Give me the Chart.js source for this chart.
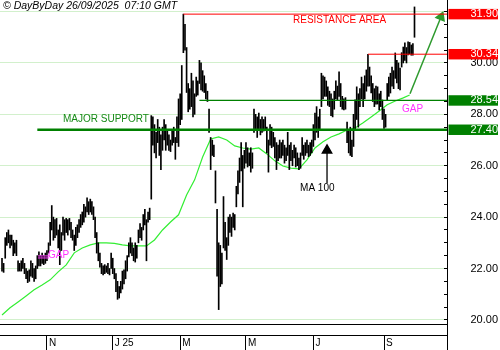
<!DOCTYPE html>
<html>
<head>
<meta charset="utf-8">
<title>DayByDay</title>
<script src="https://cdn.jsdelivr.net/npm/chart.js@4.4.1/dist/chart.umd.min.js"></script>
<style>
    html, body { margin: 0; padding: 0; background: #fff; }
</style>
</head>
<body>
<canvas id="chart" width="500" height="350"></canvas>
<script>
(function () {
    "use strict";

    // Daily bars, one per trading day from 24/09/2024 to 26/09/2025
    var highs = [
        22.4, 22.2, 23.2, 23.4, 23.5, 23.3, 23.3, 23.1, 23.0, 23.1,
        22.3, 22.2, 22.3, 22.4, 22.2, 22.0, 21.9, 21.95, 22.3, 22.2,
        22.0, 22.1, 22.5, 22.65, 22.5, 22.6, 22.5, 22.6, 22.7, 23.0,
        23.8, 24.45, 24.0, 23.9, 23.95, 23.5, 23.7, 23.4, 24.0, 23.9,
        23.95, 23.9, 23.95, 23.8, 23.5, 23.3, 23.6, 23.7, 23.9, 24.1,
        24.2, 24.5, 24.4, 24.75, 24.6, 24.7, 24.6, 24.4, 24.0, 23.4,
        23.0, 22.6, 22.2, 22.1, 22.15, 22.1, 22.2, 22.0, 22.6, 22.4,
        22.0, 21.8, 21.5, 21.3, 21.5, 21.9, 21.95, 22.3, 22.5, 23.0,
        23.2, 23.0, 22.8, 23.0, 22.9, 23.5, 23.75, 23.6, 24.1, 24.3,
        23.9, 24.2, 24.35, 27.95, 27.9, 27.6, 27.3, 27.8, 27.5, 27.2,
        27.5, 27.8, 27.6, 27.4, 27.2, 27.0, 27.4, 27.5, 27.1, 27.9,
        28.6, 28.8, 29.9, 31.9, 31.5, 30.6, 29.2, 29.0, 29.6, 29.3,
        28.8, 29.45, 29.3, 30.1, 30.0, 29.7, 29.5, 29.2, 28.9, 28.2,
        27.1, 27.0, 26.8, 25.8, 24.3, 23.0, 22.9, 22.6, 24.8, 23.8,
        23.2, 24.0, 24.1, 24.0, 24.16, 24.1, 25.2, 25.8, 26.3, 26.9,
        26.4, 26.6, 26.9, 26.7, 26.5, 26.7, 26.5, 28.2, 28.0, 27.9,
        28.05, 27.8, 27.9, 27.8, 27.9, 27.5, 27.0, 27.6, 27.5, 27.3,
        27.1, 26.9, 26.8, 27.0, 26.9, 27.0, 26.8, 26.7, 27.3, 26.8,
        26.9, 26.6, 26.8, 26.7, 26.5, 26.3, 26.5, 27.1, 26.8, 26.9,
        27.0, 26.8, 26.9, 27.0, 27.6, 28.05, 28.3, 27.9, 28.2, 29.6,
        29.5, 29.45, 29.3, 29.07, 28.9, 28.8, 28.6, 28.9, 29.3, 29.1,
        29.65, 29.2, 28.7, 28.6, 28.65, 27.7, 27.4, 27.5, 27.0, 28.0,
        28.56, 29.07, 28.8, 29.0, 29.45, 29.2, 29.5, 29.73, 30.34, 29.84,
        29.5, 29.2, 29.0, 29.1, 29.07, 28.8, 28.9, 28.56, 28.2, 28.0,
        29.2, 29.45, 29.6, 29.84, 29.7, 30.39, 30.1, 30.0, 29.8, 30.4,
        30.62, 30.78, 30.6, 30.82, 30.8, 30.7, 30.75, 32.18
    ];
    var lows = [
        21.9, 21.85, 22.4, 22.9, 23.0, 22.8, 22.9, 22.5, 22.6, 22.5,
        21.9, 21.9, 21.9, 22.0, 21.8, 21.6, 21.45, 21.5, 21.7, 21.65,
        21.5, 21.6, 22.0, 22.1, 22.1, 22.2, 22.15, 22.2, 22.3, 22.6,
        22.9, 23.5, 23.1, 23.2, 23.3, 22.8, 22.15, 22.7, 23.3, 23.1,
        23.4, 23.3, 23.5, 23.2, 23.1, 22.7, 22.9, 23.2, 23.4, 23.6,
        23.7, 23.8, 24.0, 24.2, 24.1, 24.2, 24.1, 23.9, 23.2, 22.6,
        22.3, 22.05, 21.8, 21.75, 21.8, 21.85, 21.8, 21.75, 22.0, 21.8,
        21.6, 21.1, 20.8, 20.85, 21.05, 21.2, 21.4, 21.6, 21.9, 22.45,
        22.6, 22.5, 22.3, 22.25, 22.4, 23.0, 23.2, 23.1, 23.5, 23.7,
        22.3, 23.8, 23.9, 24.7, 26.8, 26.5, 26.3, 26.9, 26.4, 25.85,
        26.6, 27.0, 26.6, 26.8, 26.6, 26.55, 26.8, 26.9, 26.25, 26.9,
        26.75, 27.6, 27.8, 30.4, 30.5, 28.85, 28.1, 28.2, 28.3, 27.9,
        28.0, 28.7, 28.75, 29.2, 28.95, 28.9, 28.85, 28.6, 28.5, 27.3,
        25.85, 26.4, 26.35, 24.55, 21.7, 20.4, 21.3, 21.4, 22.8, 22.7,
        22.35, 22.9, 23.4, 23.25, 23.6, 23.5, 24.4, 24.9, 25.35, 25.8,
        24.4, 25.9, 26.1, 25.95, 26.0, 25.75, 25.9, 27.3, 27.4, 27.1,
        27.4, 27.2, 27.3, 27.35, 27.4, 26.5, 25.75, 26.8, 26.7, 26.75,
        26.3, 25.85, 26.2, 26.3, 26.3, 26.4, 26.1, 26.2, 26.4, 25.85,
        26.2, 26.0, 26.3, 25.95, 26.0, 25.85, 25.9, 26.4, 26.25, 26.4,
        26.5, 26.35, 26.4, 26.5, 26.75, 27.0, 27.3, 27.1, 27.4, 28.3,
        28.6, 28.7, 28.7, 28.35, 28.3, 27.95, 27.9, 28.2, 28.6, 28.56,
        28.7, 28.3, 28.2, 28.17, 28.2, 26.9, 26.5, 26.4, 26.35, 26.75,
        27.4, 27.8, 27.5, 28.3, 28.6, 28.3, 28.6, 28.9, 29.1, 29.1,
        28.83, 28.5, 28.3, 28.4, 28.4, 28.17, 28.3, 27.8, 27.45, 27.5,
        28.56, 28.7, 28.83, 29.1, 29.0, 29.4, 29.22, 29.0, 28.95, 29.84,
        30.0, 30.1, 30.0, 30.31, 30.35, 30.3, 30.3, 31.0
    ];

    // 100 day moving average, read every fifth bar
    var maIdx = [0, 5, 10, 15, 20, 25, 30, 35, 40, 45, 50, 55, 60, 65, 70, 75, 80, 85,
        90, 95, 100, 105, 110, 115, 120, 125, 130, 135, 140, 145, 150, 155, 160, 165,
        170, 175, 180, 185, 190, 195, 200, 205, 210, 215, 220, 225, 230, 235, 240, 245,
        250, 254];
    var ma100 = [20.19, 20.47, 20.70, 20.93, 21.17, 21.36, 21.56, 21.87, 22.14, 22.61,
        22.80, 22.92, 23.00, 23.00, 22.98, 22.92, 22.88, 22.88, 22.88, 23.11, 23.50,
        23.81, 24.09, 24.86, 25.45, 26.34, 27.04, 27.12, 27.00, 26.77, 26.69, 26.65,
        26.69, 26.46, 26.19, 25.99, 25.91, 25.88, 26.23, 26.69, 26.93, 27.12, 27.24,
        27.39, 27.47, 27.67, 27.90, 28.13, 28.37, 28.52, 28.64, 28.75];

    // month ticks (bar index of first trading day)
    var monthIdx = [28, 69, 111, 152, 194, 238];
    var monthLabels = ["N", "J 25", "M", "M", "J", "S"];
    var priceTicks = [20, 22, 24, 26, 28, 30];

    // drawn levels
    var levels = [31.90, 30.34, 28.54, 27.40];
    var levelFrom = [113, 228, 123, 22];
    var levelColors = ["#ff0000", "#ff0000", "#008000", "#008000"];
    var levelWidths = [1, 1, 1.3, 2.5];

    var notes = [
        ["RESISTANCE AREA", 181.3, 31.67, "#ff0000"],
        ["MAJOR SUPPORT", 38, 27.82, "#178a17"],
        ["GAP", 28.7, 22.53, "#ff33ff"],
        ["GAP", 249.2, 28.21, "#ff33ff"],
        ["MA 100", 185.7, 25.14, "#000000"]
    ];

    var xMin = -1.25, xMax = 277.25;
    var yMin = 19.84, yMax = 32.45;

    Chart.defaults.font.family = "Arial, 'Liberation Sans', sans-serif";
    Chart.defaults.color = "#000";

    var yTicks = [];
    for (var v = 20; v <= 32; v += 0.5) yTicks.push(v);
    yTicks = yTicks.concat(levels).sort(function (a, b) { return a - b; });

    function levelOf(v) { return levels.indexOf(v); }
    function isMajor(v) { return levelOf(v) < 0 && v % 2 === 0; }

    var bars = highs.map(function (h, i) { return {x: i, y: [lows[i], h]}; });
    var maLine = maIdx.map(function (x, k) { return {x: x, y: ma100[k]}; });

    var datasets = [{
        type: "bar",
        data: bars,
        backgroundColor: "#000",
        barThickness: 1,
        order: 2
    }, {
        type: "line",
        data: maLine,
        borderColor: "#33ee33",
        borderWidth: 1.2,
        pointRadius: 0,
        order: 3
    }];

    levels.forEach(function (lv, k) {
        datasets.push({
            type: "line",
            data: [{x: levelFrom[k], y: lv}, {x: xMax, y: lv}],
            borderColor: levelColors[k],
            borderWidth: levelWidths[k],
            pointRadius: 0,
            order: 1
        });
    });

    // gap marks, left
    [22.49, 22.41].forEach(function (p) {
        datasets.push({
            type: "line",
            data: [{x: 22.4, y: p}, {x: 29.3, y: p}],
            borderColor: "#ff33ff",
            borderWidth: 1,
            pointRadius: 0,
            order: 1
        });
    });

    // green arrow towards resistance
    datasets.push({
        type: "line",
        data: [{x: 254.2, y: 28.8}, {x: 273.5, y: 31.79}],
        borderColor: "#2e9a2e",
        borderWidth: 1.5,
        pointRadius: [0, 5],
        pointStyle: "triangle",
        pointRotation: 22,
        pointBackgroundColor: "#2e9a2e",
        pointBorderColor: "#2e9a2e",
        order: 1
    });

    // MA 100 arrow
    datasets.push({
        type: "line",
        data: [{x: 202.5, y: 25.33}, {x: 202.5, y: 26.6}],
        borderColor: "#000",
        borderWidth: 1.3,
        pointRadius: [0, 5.5],
        pointStyle: "triangle",
        pointBackgroundColor: "#000",
        pointBorderColor: "#000",
        order: 1
    });

    function noPad(s) {
        s.paddingTop = 0; s.paddingBottom = 0; s.paddingLeft = 0; s.paddingRight = 0;
    }

    var textPlugin = {
        id: "texts",
        afterDatasetsDraw: function (chart) {
            var c = chart.ctx, sx = chart.scales.x, sy = chart.scales.y;
            c.save();
            c.font = "10px Arial, 'Liberation Sans', sans-serif";
            c.textAlign = "left";
            c.textBaseline = "middle";
            notes.forEach(function (n) {
                c.fillStyle = n[3];
                c.fillText(n[0], sx.getPixelForValue(n[1]), sy.getPixelForValue(n[2]));
            });
            c.fillStyle = "#000";
            c.font = "italic 10.5px Arial, 'Liberation Sans', sans-serif";
            c.fillText("\u00a9 DayByDay 26/09/2025  07:10 GMT", 3, 6);
            c.restore();
        }
    };

    new Chart(document.getElementById("chart"), {
        type: "line",
        data: {datasets: datasets},
        options: {
            responsive: false,
            animation: false,
            events: [],
            layout: {padding: {right: 2}, autoPadding: false},
            plugins: {legend: {display: false}, tooltip: {enabled: false}},
            scales: {
                x: {
                    type: "linear", min: xMin, max: xMax, position: "bottom", offset: false,
                    afterBuildTicks: function (s) { s.ticks = [{value: xMax}]; },
                    afterFit: function (s) { s.height = 11; noPad(s); },
                    ticks: {display: false},
                    grid: {drawOnChartArea: false, offset: false, tickLength: 11, color: "#000"},
                    border: {color: "#000"}
                },
                x2: {
                    type: "linear", axis: "x", min: xMin, max: xMax, position: "bottom", offset: false,
                    afterBuildTicks: function (s) {
                        s.ticks = monthIdx.map(function (m) { return {value: m}; }).concat([{value: xMax}]);
                    },
                    afterFit: function (s) { s.height = 15; noPad(s); },
                    ticks: {
                        align: "start", padding: -13, labelOffset: 2, maxRotation: 0, autoSkip: false,
                        font: {size: 10},
                        callback: function (val) {
                            var k = monthIdx.indexOf(val);
                            return k < 0 ? "" : monthLabels[k];
                        }
                    },
                    grid: {drawOnChartArea: false, offset: false, tickLength: 15, color: "#000"},
                    border: {color: "#000"}
                },
                y: {
                    position: "right", min: yMin, max: yMax, beginAtZero: false,
                    afterBuildTicks: function (s) {
                        s.ticks = yTicks.map(function (t) { return {value: t}; });
                    },
                    afterFit: function (s) { s.width = 51; noPad(s); },
                    grid: {
                        tickLength: -3,
                        color: function (c) { return isMajor(c.tick.value) ? "#d2f0cc" : "rgba(0,0,0,0)"; },
                        tickColor: function (c) { return levelOf(c.tick.value) < 0 ? "#000" : "rgba(0,0,0,0)"; }
                    },
                    border: {color: "#000"},
                    ticks: {
                        autoSkip: false,
                        crossAlign: "far",
                        font: {size: 11, lineHeight: 0.95},
                        color: function (c) { return levelOf(c.tick.value) < 0 ? "#000" : "#fff"; },
                        showLabelBackdrop: function (c) { return levelOf(c.tick.value) >= 0; },
                        backdropColor: function (c) {
                            var k = levelOf(c.tick.value);
                            return k < 0 ? "rgba(0,0,0,0)" : levelColors[k];
                        },
                        backdropPadding: {left: 22, right: 1, top: 0, bottom: 0},
                        callback: function (val) {
                            if (levelOf(val) >= 0) return val.toFixed(2);
                            return priceTicks.indexOf(val) >= 0 ? val.toFixed(2) : "";
                        }
                    }
                }
            }
        },
        plugins: [textPlugin]
    });
})();
</script>
</body>
</html>
